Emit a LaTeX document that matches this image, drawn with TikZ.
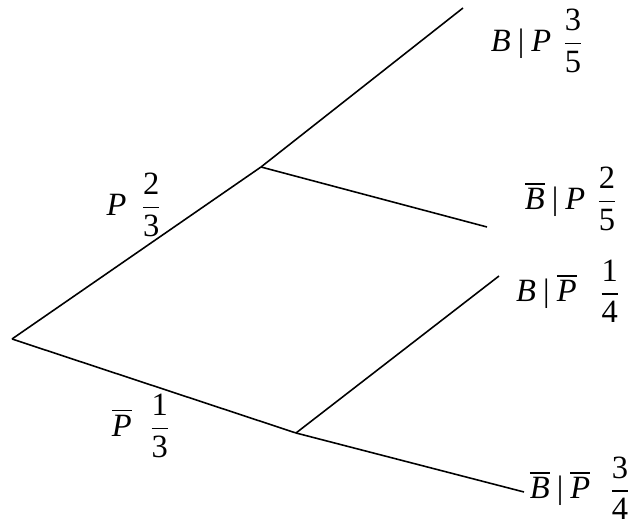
\documentclass[tikz,border=0pt]{standalone}
\usepackage{amsmath}
\usepackage{fontspec}
\setmainfont{Liberation Serif}
\usepackage{tikz}
\usetikzlibrary{positioning}

\newcommand{\given}{\hspace{0.22em}|\hspace{0.22em}}
\newcommand{\pfrac}[2]{$\dfrac{\text{#1}}{\text{#2}}$}
\newcommand{\nbar}[1]{$\overline{\text{\textit{#1}}}$}

\begin{document}
\begin{tikzpicture}[x=0.02cm, y=-0.02cm,
    branch/.style={draw=black, line width=0.9pt},
    prob/.style={inner sep=0pt, font=\fontsize{18.5}{22}\selectfont}
  ]
  \useasboundingbox (0,0) rectangle (633,526);
  % Branch points of the tree
  \coordinate (root) at (12,339);
  \coordinate (p) at (261,167);
  \coordinate (pbar) at (296,433);
  % Ends of the second stage
  \coordinate (bp) at (463,8);
  \coordinate (bbarp) at (487,227);
  \coordinate (bpbar) at (499,276);
  \coordinate (bbarpbar) at (524,492);
  % First stage: P or not P
  \draw[branch] (root) -- (p);
  \draw[branch] (root) -- (pbar);
  \node[prob] (lp) at (134,205) {\textit{P}\hspace{0.45em}\pfrac{2}{3}};
  \node[prob] (lpbar) at (141,426) {\nbar{P}\hspace{0.55em}\pfrac{1}{3}};
  % Second stage: B given P
  \draw[branch] (p) -- (bp);
  \draw[branch] (p) -- (bbarp);
  \node[prob] (lbp) at (537,41) {\textit{B}\given\textit{P}\hspace{0.35em}\pfrac{3}{5}};
  \node[prob] (lbbarp) at (571,199) {\nbar{B}\given\textit{P}\hspace{0.35em}\pfrac{2}{5}};
  % Second stage: B given not P
  \draw[branch] (pbar) -- (bpbar);
  \draw[branch] (pbar) -- (bbarpbar);
  \node[prob] (lbpbar) at (568,291) {\textit{B}\given\nbar{P}\hspace{0.7em}\pfrac{1}{4}};
  \node[prob] (lbbarpbar) at (580,488) {\nbar{B}\given\nbar{P}\hspace{0.6em}\pfrac{3}{4}};
\end{tikzpicture}
\end{document}
